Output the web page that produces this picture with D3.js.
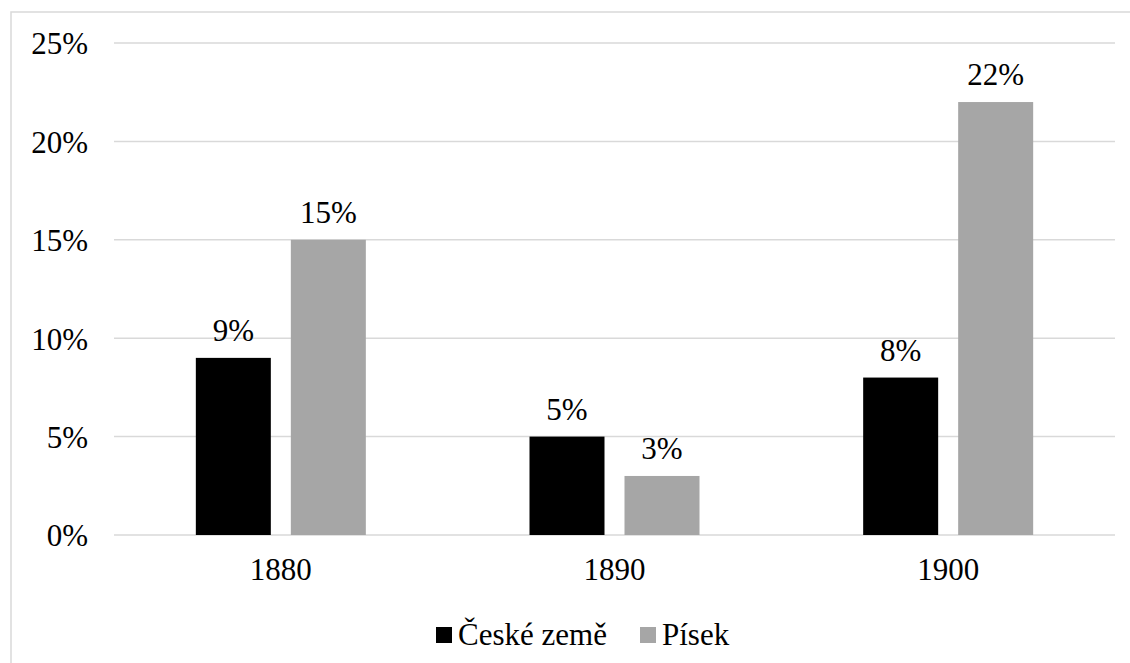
<!DOCTYPE html>
<html>
<head>
<meta charset="utf-8">
<script src="https://cdn.jsdelivr.net/npm/d3@7"></script>
<style>
  body { margin: 0; background: #fff; }
</style>
</head>
<body>
<svg width="1130" height="663"></svg>
<script>
// data
var years = ['1880', '1890', '1900'];
var seriesNames = ['České země', 'Písek'];
var ceskeZeme = [9, 5, 8];
var pisek = [15, 3, 22];
var yTicks = [0, 5, 10, 15, 20, 25];
var colors = ['#000000', '#a6a6a6'];

var FONT = 'Liberation Serif, Tinos, DejaVu Serif, serif';
var svg = d3.select('svg');

// outer frame
svg.append('rect')
    .attr('x', 11).attr('y', 12)
    .attr('width', 1140).attr('height', 700)
    .attr('fill', 'none')
    .attr('stroke', '#d9d9d9')
    .attr('stroke-width', 1.5);

var plotLeft = 114, plotRight = 1115, plotTop = 43, plotBottom = 535;

var xscale = d3.scaleBand()
    .domain(years)
    .range([plotLeft, plotRight]);

var yscale = d3.scaleLinear()
    .domain([0, 25])
    .range([plotBottom, plotTop]);

// gridlines
svg.append('g')
    .selectAll('line')
    .data(yTicks)
    .enter().append('line')
    .attr('x1', plotLeft).attr('x2', plotRight)
    .attr('y1', function (d) { return yscale(d); })
    .attr('y2', function (d) { return yscale(d); })
    .attr('stroke', '#d9d9d9')
    .attr('stroke-width', 1.5);

// y axis labels
var y_axis = d3.axisLeft(yscale)
    .tickValues(yTicks)
    .tickFormat(function (d) { return d + '%'; })
    .tickSize(0)
    .tickPadding(26);

var gy = svg.append('g')
    .attr('transform', 'translate(' + plotLeft + ',0)')
    .call(y_axis);
gy.select('.domain').remove();
gy.selectAll('text')
    .style('font-family', FONT)
    .style('font-size', '31px')
    .attr('fill', '#000')
    .attr('dy', '0.35em');

// x axis labels
var x_axis = d3.axisBottom(xscale).tickSize(0).tickPadding(23);
var gx = svg.append('g')
    .attr('transform', 'translate(0,' + plotBottom + ')')
    .call(x_axis);
gx.select('.domain').remove();
gx.selectAll('text')
    .style('font-family', FONT)
    .style('font-size', '31px')
    .attr('fill', '#000');

// bars
var barW = 75, gap = 20;
var inner = d3.scaleOrdinal()
    .domain([0, 1])
    .range([-(barW + gap / 2), gap / 2]);

var series = [ceskeZeme, pisek];
series.forEach(function (vals, si) {
    var g = svg.append('g');
    g.selectAll('rect')
        .data(vals)
        .enter().append('rect')
        .attr('x', function (d, i) { return xscale(years[i]) + xscale.bandwidth() / 2 + inner(si); })
        .attr('y', function (d) { return yscale(d); })
        .attr('width', barW)
        .attr('height', function (d) { return plotBottom - yscale(d); })
        .attr('fill', colors[si]);
    g.selectAll('text')
        .data(vals)
        .enter().append('text')
        .attr('x', function (d, i) { return xscale(years[i]) + xscale.bandwidth() / 2 + inner(si) + barW / 2; })
        .attr('y', function (d) { return yscale(d) - 17; })
        .attr('text-anchor', 'middle')
        .style('font-family', FONT)
        .style('font-size', '31px')
        .text(function (d) { return d + '%'; });
});

// legend
var legendX = [436, 640];
var legend = svg.append('g');
seriesNames.forEach(function (name, i) {
    legend.append('rect')
        .attr('x', legendX[i]).attr('y', 627)
        .attr('width', 16).attr('height', 16)
        .attr('fill', colors[i]);
    legend.append('text')
        .attr('x', legendX[i] + 22).attr('y', 645)
        .style('font-family', FONT)
        .style('font-size', '31px')
        .text(name);
});
</script>
</body>
</html>
